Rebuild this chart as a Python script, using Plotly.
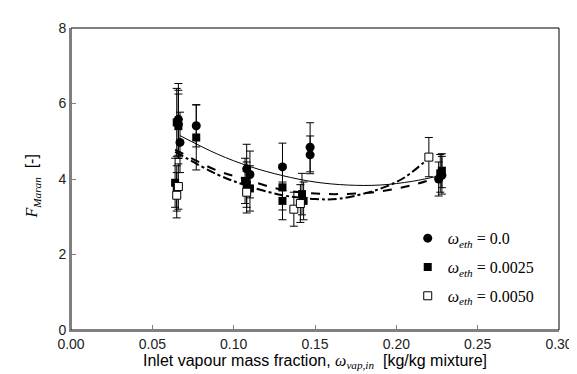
import plotly.graph_objects as go

# ---- data ----
circ_x = [0.066, 0.066, 0.067, 0.077, 0.108, 0.110, 0.130, 0.147, 0.147, 0.226, 0.228]
circ_y = [5.58, 5.45, 4.97, 5.41, 4.27, 4.12, 4.32, 4.84, 4.64, 4.00, 4.10]
circ_e = [0.95, 0.90, 0.80, 0.56, 0.65, 0.62, 0.63, 0.65, 0.50, 0.45, 0.50]

sq_x = [0.065, 0.066, 0.064, 0.065, 0.077, 0.107, 0.108, 0.110, 0.130, 0.130, 0.142, 0.143, 0.227, 0.228]
sq_y = [5.50, 5.40, 3.90, 3.75, 5.10, 3.95, 3.85, 3.75, 3.78, 3.42, 3.60, 3.42, 4.15, 4.22]
sq_e = [0.90, 0.85, 0.65, 0.60, 0.86, 0.60, 0.60, 0.60, 0.60, 0.50, 0.55, 0.50, 0.50, 0.45]

op_x = [0.065, 0.066, 0.108, 0.137, 0.141, 0.220]
op_y = [3.57, 3.80, 3.65, 3.20, 3.35, 4.58]
op_e = [0.60, 0.60, 0.55, 0.45, 0.50, 0.52]

fit0_x = [0.067, 0.09, 0.11, 0.13, 0.15, 0.17, 0.19, 0.21, 0.228]
fit0_y = [5.15, 4.66, 4.33, 4.09, 3.92, 3.84, 3.84, 3.94, 4.10]

fit25_x = [0.064, 0.09, 0.107, 0.127, 0.145, 0.165, 0.188, 0.21, 0.228]
fit25_y = [4.78, 4.22, 4.00, 3.74, 3.63, 3.60, 3.66, 3.84, 4.08]

fit50_x = [0.064, 0.09, 0.107, 0.13, 0.15, 0.165, 0.19, 0.205, 0.22]
fit50_y = [4.72, 4.12, 3.84, 3.57, 3.47, 3.48, 3.74, 4.04, 4.56]

x_ticks = [0.00, 0.05, 0.10, 0.15, 0.20, 0.25, 0.30]
y_ticks = [0, 2, 4, 6, 8]

SERIF = "Liberation Serif"
SANS = "Liberation Sans"

fig = go.Figure()

# fit lines
fig.add_trace(go.Scatter(x=fit0_x, y=fit0_y, mode="lines", line=dict(color="black", width=1, shape="spline"),
                         showlegend=False, hoverinfo="skip"))
fig.add_trace(go.Scatter(x=fit25_x, y=fit25_y, mode="lines", line=dict(color="black", width=2, dash="dash", shape="spline"),
                         showlegend=False, hoverinfo="skip"))
fig.add_trace(go.Scatter(x=fit50_x, y=fit50_y, mode="lines", line=dict(color="black", width=2, dash="dashdot", shape="spline"),
                         showlegend=False, hoverinfo="skip"))

err_style = dict(type="data", thickness=1, width=4, color="black")

def leg(v):
    return (f"<span style='font-family:{SERIF}'><i>ω</i><sub><i>eth</i></sub> = {v}</span>")

fig.add_trace(go.Scatter(x=circ_x, y=circ_y, mode="markers", name=leg("0.0"), legendgroup="a",
                         error_y=dict(array=circ_e, **err_style),
                         marker=dict(symbol="circle", size=9, color="black")))
fig.add_trace(go.Scatter(x=sq_x, y=sq_y, mode="markers", name=leg("0.0025"), legendgroup="b",
                         error_y=dict(array=sq_e, **err_style),
                         marker=dict(symbol="square", size=8, color="black")))
fig.add_trace(go.Scatter(x=op_x, y=op_y, mode="markers", name=leg("0.0050"), legendgroup="c",
                         error_y=dict(array=op_e, **err_style),
                         marker=dict(symbol="square", size=8, color="white", line=dict(color="black", width=1))))

# frame (top/right black thin)
fig.add_shape(type="rect", xref="paper", yref="paper", x0=0, y0=0, x1=1, y1=1,
              line=dict(color="black", width=1), layer="below")

fig.update_xaxes(range=[0, 0.30], tickvals=x_ticks, tickformat=".2f",
                 showline=True, linecolor="#808080", linewidth=2,
                 ticks="inside", ticklen=5, tickcolor="#808080", tickwidth=1,
                 showgrid=False, zeroline=False,
                 tickfont=dict(family=SANS, size=14, color="#222222"))
fig.update_yaxes(range=[0, 8], tickvals=y_ticks,
                 showline=True, linecolor="#808080", linewidth=2,
                 ticks="inside", ticklen=5, tickcolor="#808080", tickwidth=1,
                 showgrid=False, zeroline=False,
                 tickfont=dict(family=SANS, size=14, color="#222222"))

fig.add_annotation(xref="paper", yref="paper", x=0.5, y=-0.105, yanchor="middle", showarrow=False,
                   text=(f"Inlet vapour mass fraction, <span style='font-family:{SERIF}'><i>ω</i>"
                         f"<sub><i>vap,in</i></sub></span>  [kg/kg mixture]"),
                   font=dict(family=SANS, size=16, color="black"))
fig.add_annotation(xref="paper", yref="paper", x=-0.078, y=0.475, xanchor="center", yanchor="middle",
                   showarrow=False, textangle=-90,
                   text=(f"<span style='font-family:{SERIF}'><i>F</i><sub><i>Maran</i></sub></span>  [-]"),
                   font=dict(family=SANS, size=16, color="black"))

fig.update_layout(
    width=577, height=374,
    margin=dict(l=63, r=25, t=15, b=52),
    plot_bgcolor="white", paper_bgcolor="white",
    showlegend=True,
    legend=dict(x=0.69, y=0.36, xanchor="left", yanchor="top",
                font=dict(family=SERIF, size=16, color="black"),
                bgcolor="rgba(0,0,0,0)", borderwidth=0, tracegroupgap=5),
)

fig.write_html("out.html")
